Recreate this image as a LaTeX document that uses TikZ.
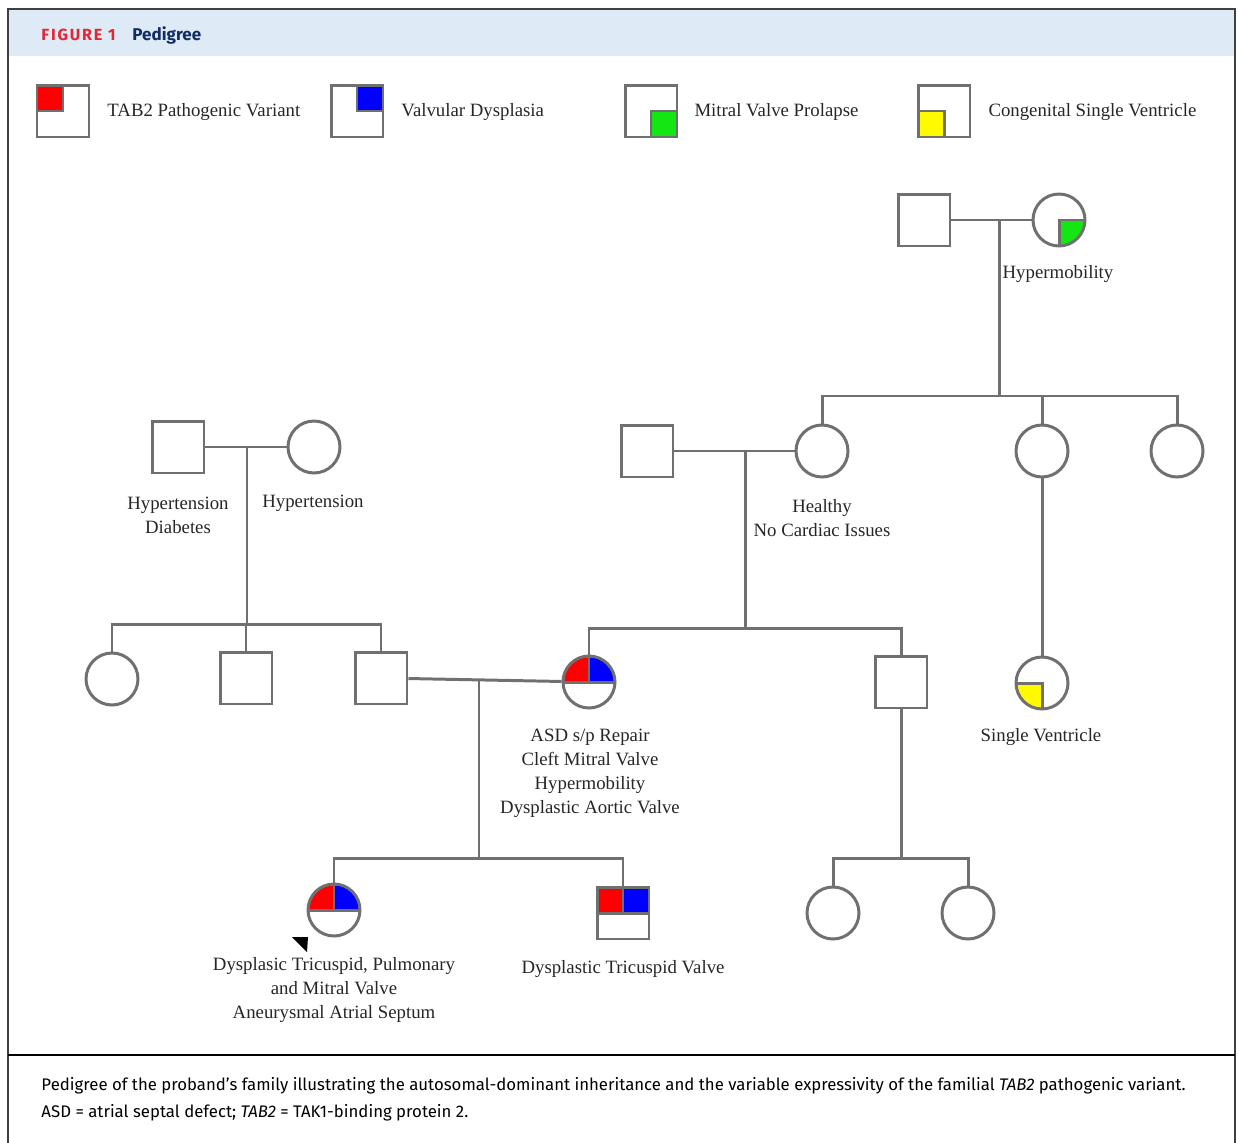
\documentclass[tikz,border=0pt]{standalone}
\usepackage{fontspec}
\setmainfont{Liberation Serif}
\setsansfont{Fira Sans}
\definecolor{pedgray}{RGB}{112,112,112}
\definecolor{headblue}{RGB}{222,234,246}
\definecolor{figred}{RGB}{230,36,50}
\definecolor{fignavy}{RGB}{18,44,100}
\definecolor{tabred}{RGB}{255,0,0}
\definecolor{tabblue}{RGB}{0,0,255}
\definecolor{tabgreen}{RGB}{20,230,20}
\definecolor{tabyellow}{RGB}{255,250,0}

\begin{document}
\begin{tikzpicture}[x = 0.02cm, y = -0.02cm, line width = 1.7pt,
    male/.style = {rectangle, draw = pedgray, fill = white, minimum size = 1.04cm, inner sep = 0pt},
    female/.style = {circle, draw = pedgray, fill = white, minimum size = 1.04cm, inner sep = 0pt},
    qtl/.style = {path picture = {\filldraw[fill = #1, draw = pedgray] (path picture bounding box.center) rectangle (path picture bounding box.north west);}},
    qtr/.style = {path picture = {\filldraw[fill = #1, draw = pedgray] (path picture bounding box.center) rectangle (path picture bounding box.north east);}},
    qbr/.style = {path picture = {\filldraw[fill = #1, draw = pedgray] (path picture bounding box.center) rectangle (path picture bounding box.south east);}},
    qbl/.style = {path picture = {\filldraw[fill = #1, draw = pedgray] (path picture bounding box.center) rectangle (path picture bounding box.south west);}},
    redblue/.style = {path picture = {
        \filldraw[fill = tabred, draw = pedgray] (path picture bounding box.center) rectangle (path picture bounding box.north west);
        \filldraw[fill = tabblue, draw = pedgray] (path picture bounding box.center) rectangle (path picture bounding box.north east);}},
    txt/.style = {text = black!85, font = \fontsize{10.7}{13.6}\selectfont, align = center, inner sep = 0pt},
    legtxt/.style = {txt, anchor = west},
    capt/.style = {anchor = west, inner sep = 0pt, font = \sffamily\fontsize{9.55}{11}\selectfont}]
      \useasboundingbox (0, 0) rectangle (1238, 1143);

      % frame and header
      \fill [headblue] (8, 9) rectangle (1235, 56);
      \draw [black!75, line width = 1pt] (8, 1170) -- (8, 9) -- (1235, 9) -- (1235, 1170);
      \draw [black, line width = 1.4pt] (8, 1055) -- (1235, 1055);
      \node [anchor = west, inner sep = 0pt, text = figred, font = \sffamily\bfseries\fontsize{9.2}{10}\selectfont\addfontfeatures{LetterSpace = 11}] (fig) at (40, 35) {FIGURE 1};
      \node [anchor = west, inner sep = 0pt, text = fignavy, font = \sffamily\bfseries\fontsize{9.7}{12}\selectfont] (ttl) at (131, 35) {Pedigree};

      % legend
      \node [male, qtl = tabred] (l1) at (63, 111){};
      \node [legtxt] (l1t) at (106, 112) {TAB2 Pathogenic Variant};
      \node [male, qtr = tabblue] (l2) at (357, 111){};
      \node [legtxt] (l2t) at (400, 112) {Valvular Dysplasia};
      \node [male, qbr = tabgreen] (l3) at (651, 111){};
      \node [legtxt] (l3t) at (693, 112) {Mitral Valve Prolapse};
      \node [male, qbl = tabyellow] (l4) at (944, 111){};
      \node [legtxt] (l4t) at (987, 112) {Congenital Single Ventricle};

      % generation I
      \node [male] (i1) at (924, 220){};
      \node [female, qbr = tabgreen] (i2) at (1059, 220){};
      \node [txt] (i2t) at (1058, 274) {Hypermobility};
      \coordinate (d1) at (999, 220);
      \coordinate (s1) at (999, 396);
      \draw [pedgray] (i1) -- (i2);
      \draw [pedgray] (d1) -- (s1);

      % generation II
      \node [male] (ii1) at (178, 447){};
      \node [female] (ii2) at (314, 447){};
      \node [txt] (ii1t) at (178, 515) {Hypertension\\Diabetes};
      \node [txt] (ii2t) at (313, 503) {Hypertension};
      \node [male] (ii3) at (647, 451){};
      \node [female] (ii4) at (822, 451){};
      \node [txt] (ii4t) at (822, 518) {Healthy\\No Cardiac Issues};
      \node [female] (ii5) at (1042, 451){};
      \node [female] (ii6) at (1177, 451){};
      \draw [pedgray] (ii4) |- (s1) -| (ii6);
      \draw [pedgray] (ii5) -- (ii5 |- s1);

      \coordinate (d2) at (247, 447);
      \coordinate (s2) at (247, 624);
      \draw [pedgray] (ii1) -- (ii2);
      \draw [pedgray] (d2) -- (s2);
      \coordinate (d3) at (745, 451);
      \coordinate (s3) at (745, 628);
      \draw [pedgray] (ii3) -- (ii4);
      \draw [pedgray] (d3) -- (s3);

      % generation III
      \node [female] (iii1) at (112, 679){};
      \node [male] (iii2) at (246, 678){};
      \node [male] (iii3) at (381, 678){};
      \node [female, redblue] (iii4) at (589, 682){};
      \node [txt] (iii4t) at (590, 773) {ASD s/p Repair\\Cleft Mitral Valve\\Hypermobility\\Dysplastic Aortic Valve};
      \node [male] (iii5) at (901, 682){};
      \node [female, qbl = tabyellow] (iii6) at (1042, 683){};
      \node [txt] (iii6t) at (1041, 737) {Single Ventricle};
      \draw [pedgray] (iii1) |- (s2) -| (iii3);
      \draw [pedgray] (iii2) -- (iii2 |- s2);
      \draw [pedgray] (iii4) |- (s3) -| (iii5);
      \draw [pedgray] (ii5) -- (iii6);

      \coordinate (d4) at (479, 681);
      \coordinate (s4) at (479, 858);
      \draw [pedgray] (iii3) -- (iii4);
      \draw [pedgray] (d4) -- (s4);
      \coordinate (s5) at (901, 858);
      \draw [pedgray] (iii5) -- (s5);

      % generation IV
      \node [female, redblue] (iv1) at (334, 910){};
      \node [txt] (iv1t) at (334, 990) {Dysplasic Tricuspid, Pulmonary\\and Mitral Valve\\Aneurysmal Atrial Septum};
      \node [male, redblue] (iv2) at (623, 913){};
      \node [txt] (iv2t) at (623, 969) {Dysplastic Tricuspid Valve};
      \node [female] (iv3) at (833, 913){};
      \node [female] (iv4) at (968, 913){};
      \draw [pedgray] (iv1) |- (s4) -| (iv2);
      \draw [pedgray] (iv3) |- (s5) -| (iv4);
      \fill [black] (292, 937) -- (308, 937) -- (307, 952) -- cycle;

      % caption
      \node [capt] (cap1) at (40, 1086) {Pedigree of the proband’s family illustrating the autosomal-dominant inheritance and the variable expressivity of the familial \textit{TAB2} pathogenic variant.};
      \node [capt] (cap2) at (40, 1113) {ASD = atrial septal defect; \textit{TAB2} = TAK1-binding protein 2.};

      \end{tikzpicture}
\end{document}
